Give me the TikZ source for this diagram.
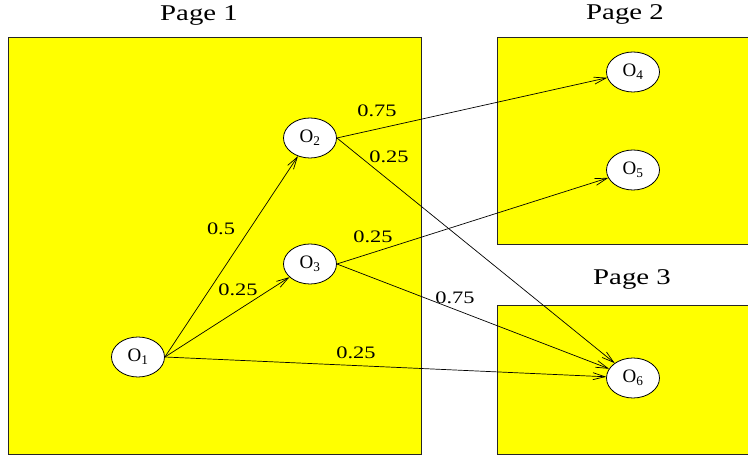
\documentclass[tikz,border=0pt]{standalone}
\usepackage{fontspec}
\setmainfont{Liberation Serif}
\newfontfamily\widefont[FakeStretch=1.28]{Liberation Serif}
\usetikzlibrary{arrows.meta,shapes.geometric}
\definecolor{pagefill}{RGB}{255,255,0}
\tikzset{
  pagebox/.style={draw=black!85, line width=1pt, fill=pagefill},
  obj/.style={ellipse, draw=black, line width=0.8pt, fill=white,
              minimum width=53pt, minimum height=40pt, inner sep=0pt,
              font=\fontsize{19}{19}\selectfont},
  link/.style={line width=0.7pt, -{Straight Barb[length=12pt,width=7pt,line width=0.7pt]}},
  prob/.style={font=\widefont\fontsize{17.5}{17.5}\selectfont, inner sep=0pt},
  pagetitle/.style={font=\widefont\fontsize{22.5}{22.5}\selectfont, inner sep=0pt}
}
\begin{document}
\begin{tikzpicture}[x=1pt, y=-1pt]
  \useasboundingbox (0,0) rectangle (748,457);
  \clip (0,0) rectangle (748,457);

  % the three pages
  \draw[pagebox] (8,38) rectangle (421,454);
  \draw[pagebox] (497,38) rectangle (760,245);
  \draw[pagebox] (497,306) rectangle (760,454);

  \node[pagetitle] (t1) at (199,16) {Page 1};
  \node[pagetitle] (t2) at (625,14) {Page 2};
  \node[pagetitle] (t3) at (632,279) {Page 3};

  % objects
  \node[obj] (o1) at (138,357) {O\textsubscript{1}};
  \node[obj] (o2) at (310,138) {O\textsubscript{2}};
  \node[obj] (o3) at (310,264) {O\textsubscript{3}};
  \node[obj] (o4) at (633,72)  {O\textsubscript{4}};
  \node[obj] (o5) at (633,170) {O\textsubscript{5}};
  \node[obj] (o6) at (633,378) {O\textsubscript{6}};

  % links between objects, leaving each source from its right side
  \draw[link] (o1.east) -- (o2);
  \draw[link] (o1.east) -- (o3);
  \draw[link] (o1.east) -- (o6);
  \draw[link] (o2.east) -- (o4);
  \draw[link] (o2.east) -- (o6);
  \draw[link] (o3.east) -- (o5);
  \draw[link] (o3.east) -- (o6);

  % link probabilities
  \node[prob] (p24) at (377,111) {0.75};
  \node[prob] (p26) at (389,157) {0.25};
  \node[prob] (p12) at (221,229) {0.5};
  \node[prob] (p13) at (238,290) {0.25};
  \node[prob] (p35) at (373,237) {0.25};
  \node[prob] (p36) at (455,298) {0.75};
  \node[prob] (p16) at (356,353) {0.25};
\end{tikzpicture}
\end{document}
